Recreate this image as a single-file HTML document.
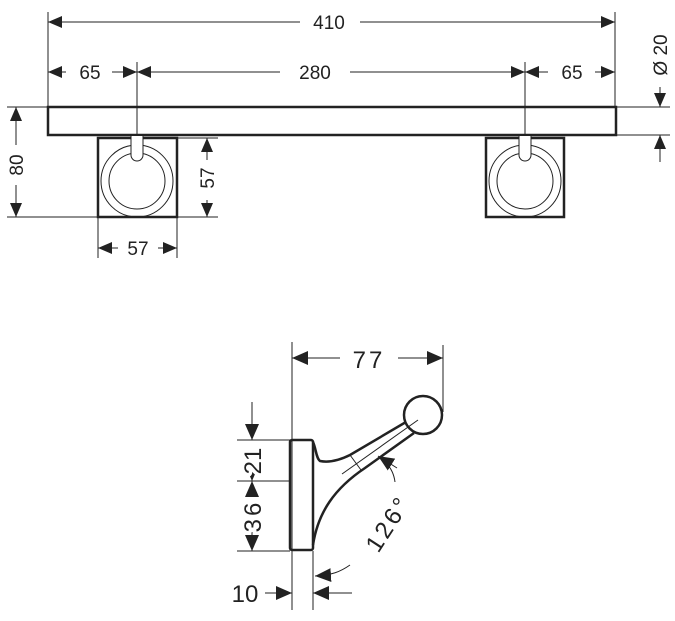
<!DOCTYPE html>
<html><head><style>body{margin:0;background:#fff}svg{display:block}text{font-family:"Liberation Sans",sans-serif;font-size:19px;fill:#222;stroke:#fff;stroke-width:7px;paint-order:stroke;stroke-linejoin:round}</style></head><body>
<svg width="675" height="621" viewBox="0 0 675 621" xmlns="http://www.w3.org/2000/svg">
<defs>
<marker id="a" viewBox="0 0 14 12" refX="14" refY="6" markerWidth="14" markerHeight="12" markerUnits="userSpaceOnUse" orient="auto"><path d="M0,0L14,6L0,12z" fill="#222"/></marker>
<marker id="b" viewBox="0 0 16 14" refX="16" refY="7" markerWidth="16" markerHeight="14" markerUnits="userSpaceOnUse" orient="auto"><path d="M0,0L16,7L0,14z" fill="#222"/></marker>
</defs>
<g stroke="#222" stroke-width="1" fill="none">
<line x1="48" y1="12" x2="48" y2="107"/><line x1="615" y1="12" x2="615" y2="107"/>
<line x1="137" y1="62" x2="137" y2="160"/><line x1="525" y1="62" x2="525" y2="160"/>
<line x1="300" y1="22" x2="48" y2="22" marker-end="url(#a)"/>
<line x1="360" y1="22" x2="615" y2="22" marker-end="url(#a)"/>
<line x1="66" y1="72" x2="48" y2="72" marker-end="url(#a)"/>
<line x1="112" y1="72" x2="137" y2="72" marker-end="url(#a)"/>
<line x1="280" y1="72" x2="137" y2="72" marker-end="url(#a)"/>
<line x1="350" y1="72" x2="525" y2="72" marker-end="url(#a)"/>
<line x1="548" y1="72" x2="525" y2="72" marker-end="url(#a)"/>
<line x1="595" y1="72" x2="615" y2="72" marker-end="url(#a)"/>
<rect x="48" y="107" width="568" height="28" stroke-width="2.5"/>
<rect x="98" y="138" width="79" height="79" stroke-width="2.5"/>
<rect x="486" y="138" width="78" height="79" stroke-width="2.5"/>
<circle cx="137" cy="181" r="36"/><circle cx="137" cy="181" r="28"/>
<circle cx="525" cy="181" r="36"/><circle cx="525" cy="181" r="28"/>
<path d="M131,136V155A6,6 0 0 0 143,155V136" fill="#fff"/>
<path d="M519,136V155A6,6 0 0 0 531,155V136" fill="#fff"/>
<line x1="7" y1="107" x2="48" y2="107"/><line x1="7" y1="217" x2="98" y2="217"/>
<line x1="16" y1="145" x2="16" y2="107" marker-end="url(#a)"/>
<line x1="16" y1="185" x2="16" y2="217" marker-end="url(#a)"/>
<line x1="177" y1="138" x2="218" y2="138"/><line x1="177" y1="217" x2="218" y2="217"/>
<line x1="207" y1="160" x2="207" y2="138" marker-end="url(#a)"/>
<line x1="207" y1="200" x2="207" y2="217" marker-end="url(#a)"/>
<line x1="98" y1="217" x2="98" y2="258"/><line x1="177" y1="217" x2="177" y2="258"/>
<line x1="118" y1="248" x2="98" y2="248" marker-end="url(#a)"/>
<line x1="158" y1="248" x2="177" y2="248" marker-end="url(#a)"/>
<line x1="616" y1="107" x2="670" y2="107"/><line x1="616" y1="135" x2="670" y2="135"/>
<line x1="660" y1="87" x2="660" y2="107" marker-end="url(#a)"/>
<line x1="660" y1="162" x2="660" y2="135" marker-end="url(#a)"/>
<line x1="292" y1="342" x2="292" y2="610"/><line x1="443" y1="345" x2="443" y2="412"/>
<line x1="313" y1="551" x2="313" y2="610"/>
<line x1="340" y1="358" x2="292" y2="358" marker-end="url(#b)"/>
<line x1="398" y1="358" x2="443" y2="358" marker-end="url(#b)"/>
<rect x="290" y="440" width="23" height="110" rx="2" stroke-width="2.5"/>
<circle cx="423" cy="415" r="19" stroke-width="2.5"/>
<path d="M313,442C316,448 316,458 320,461C330,463 340,460 350,455L406,422" stroke-width="2.5"/>
<path d="M313,545C318,512 335,488 365,468L414,433" stroke-width="2.5"/>
<line x1="342" y1="474" x2="418" y2="420"/>
<line x1="350" y1="455" x2="361" y2="470"/>
<path d="M395,482C394,474 391,468 386,463"/>
<path d="M397,468L378,456" marker-end="url(#b)"/>
<path d="M350,565C340,572 332,575 315,576" marker-end="url(#b)"/>
<line x1="237" y1="440" x2="290" y2="440"/><line x1="237" y1="481" x2="290" y2="481"/><line x1="237" y1="551" x2="290" y2="551"/>
<line x1="252" y1="402" x2="252" y2="440" marker-end="url(#b)"/>
<line x1="252" y1="497" x2="252" y2="481" marker-end="url(#b)"/>
<line x1="252" y1="465" x2="252" y2="481" marker-end="url(#b)"/>
<line x1="252" y1="532" x2="252" y2="551" marker-end="url(#b)"/>
<line x1="265" y1="593" x2="292" y2="593" marker-end="url(#b)"/>
<line x1="352" y1="593" x2="313" y2="593" marker-end="url(#b)"/>
</g>
<text x="329" y="29" text-anchor="middle">410</text>
<text x="90" y="79" text-anchor="middle">65</text>
<text x="315" y="79" text-anchor="middle">280</text>
<text x="572" y="79" text-anchor="middle">65</text>
<text x="138" y="255" text-anchor="middle">57</text>
<text transform="translate(23,165) rotate(-90)" text-anchor="middle">80</text>
<text transform="translate(214,178) rotate(-90)" text-anchor="middle">57</text>
<text transform="translate(667,55) rotate(-90)" text-anchor="middle">Ø 20</text>
<text x="369" y="368" text-anchor="middle" style="font-size:24px;letter-spacing:3px">77</text>
<text transform="translate(261,461) rotate(-90)" text-anchor="middle" style="font-size:24px">21</text>
<text transform="translate(261,516) rotate(-90)" text-anchor="middle" style="font-size:24px;letter-spacing:3px">36</text>
<text x="245" y="602" text-anchor="middle" style="font-size:24px">10</text>
<text transform="translate(395,528) rotate(-57)" text-anchor="middle" style="font-size:24px;letter-spacing:3px">126°</text>
</svg>
</body></html>
